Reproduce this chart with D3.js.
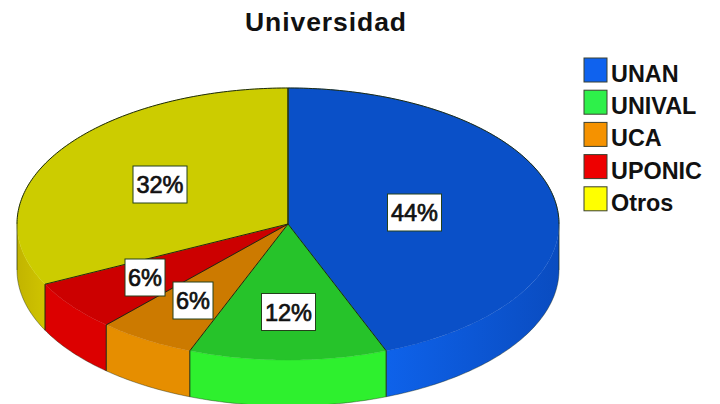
<!DOCTYPE html>
<html><head><meta charset="utf-8">
<script src="https://cdn.jsdelivr.net/npm/d3@7"></script>
<style>html,body{margin:0;background:#fff}svg{display:block}text{font-family:"Liberation Sans",Arial,sans-serif;fill:#111}</style>
</head><body><script>
const title = "Universidad";
const categories = ["UNAN","UNIVAL","UCA","UPONIC","Otros"];
const values = [44.1,11.8,5.8,6.0,32.3];
const labels = ["44%","12%","6%","6%","32%"];
const topColors = ["#0a50c8","#26c32a","#cc7a00","#cc0000","#cccc00"];
const sideStart = ["#0e62ea","#2ef02e","#e68e00","#dc0000","#c2b400"];
const sideEnd = ["#0a4cc0","#2ef02e","#e68e00","#dc0000","#cfc400"];
const legendColors = ["#0f62ee","#2ef04a","#f59200","#ee0000","#ffff00"];

const W=720,H=404,cx=288,cy=224,rx=271,ry=136,depth=46;
const svg=d3.select("body").append("svg").attr("width",W).attr("height",H);
const defs=svg.append("defs");
const pts=d3.pie().sort(null)(values);
const X=a=>cx+rx*Math.sin(a), Y=a=>cy-ry*Math.cos(a);
const samples=(a,b)=>{const n=Math.max(2,Math.ceil((b-a)*60));return d3.range(n+1).map(i=>a+(b-a)*i/n);};
const line=d3.line();
const edge="#1c2a10";
const HALF=Math.PI/2, FRONT_END=3*Math.PI/2;

// side wall: only the front half of the rim
const sideG=svg.append("g");
pts.forEach((p,i)=>{
  const a=Math.max(p.startAngle,HALF), b=Math.min(p.endAngle,FRONT_END);
  if(b<=a) return;
  const s=samples(a,b);
  const poly=[...s.map(t=>[X(t),Y(t)]),...s.slice().reverse().map(t=>[X(t),Y(t)+depth])];
  const id="side"+i;
  const g=defs.append("linearGradient").attr("id",id).attr("gradientUnits","userSpaceOnUse")
    .attr("x1",X(b)).attr("x2",X(a)).attr("y1",0).attr("y2",0);
  g.append("stop").attr("offset",0).attr("stop-color",sideStart[i]);
  g.append("stop").attr("offset",1).attr("stop-color",sideEnd[i]);
  sideG.append("path").attr("d",line(poly)+"Z").attr("fill",`url(#${id})`).attr("stroke","none");
  sideG.append("path").attr("d",line(s.map(t=>[X(t),Y(t)+depth]))).attr("fill","none").attr("stroke",edge).attr("stroke-width",.6).attr("stroke-opacity",.7);
});
// top face fills
const topG=svg.append("g");
pts.forEach((p,i)=>{
  const s=samples(p.startAngle,p.endAngle);
  topG.append("path").attr("d",line([[cx,cy],...s.map(t=>[X(t),Y(t)])])+"Z")
    .attr("fill",topColors[i]).attr("stroke",topColors[i]).attr("stroke-width",.5);
});
// vertical seams, spokes, back rim
const edges=svg.append("g").attr("fill","none").attr("stroke",edge);
pts.forEach(p=>{
  const t=p.endAngle;
  if(t>HALF && t<FRONT_END)
    edges.append("line").attr("x1",X(t)).attr("x2",X(t)).attr("y1",Y(t)).attr("y2",Y(t)+depth).attr("stroke-width",1);
  edges.append("line").attr("x1",cx).attr("y1",cy).attr("x2",X(t)).attr("y2",Y(t)).attr("stroke-width",1);
});
edges.append("line").attr("x1",cx).attr("y1",cy).attr("x2",X(0)).attr("y2",Y(0)).attr("stroke-width",1);
edges.append("path").attr("d",line(samples(FRONT_END,2*Math.PI+HALF).map(t=>[X(t),Y(t)]))).attr("stroke-width",1);
[HALF,FRONT_END].forEach(t=>{
  edges.append("line").attr("x1",X(t)).attr("x2",X(t)).attr("y1",Y(t)).attr("y2",Y(t)+depth).attr("stroke-width",1).attr("stroke-opacity",.7);
});

// percent labels
const labelPos=[[414.5,212.5],[288.5,312],[193,300.5],[145,277.5],[160,184.5]];
const lab=svg.append("g");
labels.forEach((t,i)=>{
  const [x,y]=labelPos[i];
  const w=t.length===3?54:40,h=37;
  lab.append("rect").attr("x",x-w/2).attr("y",y-h/2).attr("width",w).attr("height",h)
    .attr("fill","#fff").attr("stroke","#24401c").attr("stroke-width",1);
  lab.append("text").attr("x",x).attr("y",y+8.5).attr("text-anchor","middle")
    .attr("font-size",23.5).attr("stroke","#111").attr("stroke-width",.7).text(t);
});

// title
svg.append("text").attr("x",325.5).attr("y",31).attr("text-anchor","middle")
  .attr("font-size",26.5).attr("font-weight","bold").attr("textLength",161).attr("lengthAdjust","spacing").text(title);

// legend
const leg=svg.append("g");
categories.forEach((c,i)=>{
  const y=58+i*32.2;
  leg.append("rect").attr("x",584).attr("y",y).attr("width",23).attr("height",24)
    .attr("fill",legendColors[i]).attr("stroke","#3a4030").attr("stroke-width",1);
  leg.append("text").attr("x",611).attr("y",y+24).attr("font-size",23.4).attr("font-weight","bold").text(c);
});
</script></body></html>
